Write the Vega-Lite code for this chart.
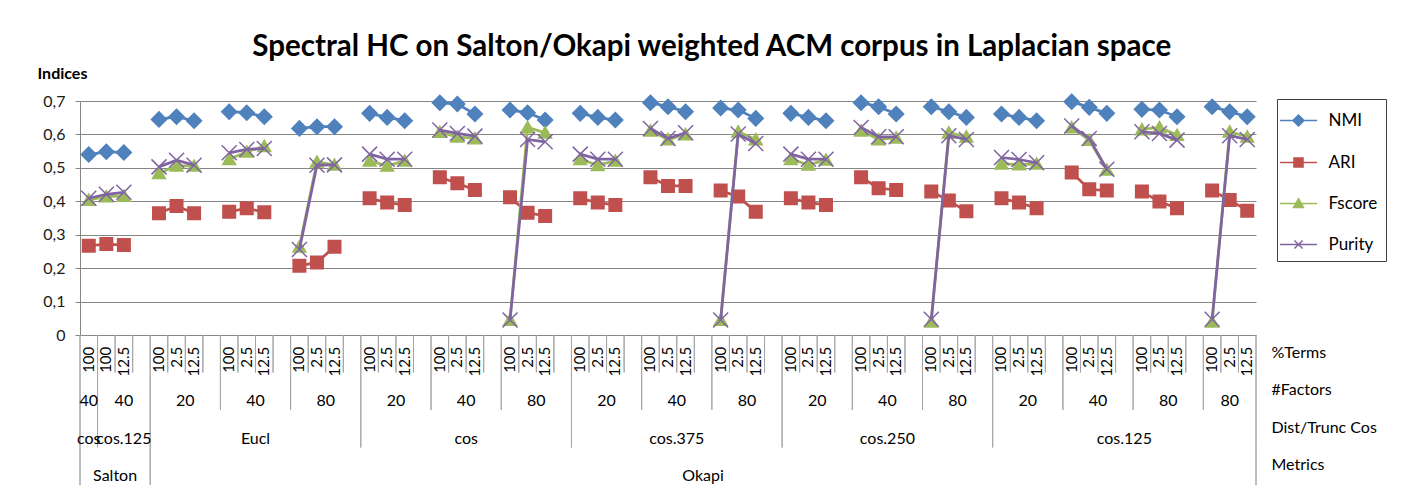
{
  "$schema": "https://vega.github.io/schema/vega-lite/v6.json",
  "background": "#ffffff",
  "padding": {"left": 37, "top": 31, "right": 5, "bottom": 5},
  "title": {"text": "Spectral HC on Salton/Okapi weighted ACM corpus in Laplacian space", "fontSize": 29.5, "font": "Lato", "fontWeight": "bold", "color": "#000000", "anchor": "middle", "offset": 3},
  "config": {
    "font": "Lato",
    "view": {"stroke": null},
    "legend": {"orient": "none", "legendX": 1197, "legendY": -2, "padding": 8.5, "strokeColor": "#404040", "fillColor": "#ffffff", "labelFontSize": 17, "labelColor": "#000000", "labelOffset": 17, "rowPadding": 20, "symbolSize": 576}
  },
  "datasets": {
    "slots": [
      {"s":0,"r":1,"t":"100","NMI":0.540,"ARI":0.267,"Fscore":0.404,"Purity":0.409},
      {"s":1,"r":1,"t":"100","NMI":0.548,"ARI":0.272,"Fscore":0.414,"Purity":0.421},
      {"s":2,"r":1,"t":"12.5","NMI":0.546,"ARI":0.269,"Fscore":0.416,"Purity":0.427},
      {"s":4,"r":2,"t":"100","NMI":0.645,"ARI":0.364,"Fscore":0.484,"Purity":0.503},
      {"s":5,"r":2,"t":"2.5","NMI":0.653,"ARI":0.386,"Fscore":0.506,"Purity":0.523},
      {"s":6,"r":2,"t":"12.5","NMI":0.641,"ARI":0.364,"Fscore":0.506,"Purity":0.508},
      {"s":8,"r":3,"t":"100","NMI":0.668,"ARI":0.369,"Fscore":0.526,"Purity":0.545},
      {"s":9,"r":3,"t":"2.5","NMI":0.665,"ARI":0.379,"Fscore":0.548,"Purity":0.555},
      {"s":10,"r":3,"t":"12.5","NMI":0.653,"ARI":0.367,"Fscore":0.565,"Purity":0.558},
      {"s":12,"r":4,"t":"100","NMI":0.618,"ARI":0.207,"Fscore":0.264,"Purity":0.256},
      {"s":13,"r":4,"t":"2.5","NMI":0.623,"ARI":0.217,"Fscore":0.518,"Purity":0.508},
      {"s":14,"r":4,"t":"12.5","NMI":0.623,"ARI":0.264,"Fscore":0.509,"Purity":0.509},
      {"s":16,"r":5,"t":"100","NMI":0.663,"ARI":0.409,"Fscore":0.521,"Purity":0.541},
      {"s":17,"r":5,"t":"2.5","NMI":0.651,"ARI":0.396,"Fscore":0.506,"Purity":0.526},
      {"s":18,"r":5,"t":"12.5","NMI":0.641,"ARI":0.389,"Fscore":0.521,"Purity":0.526},
      {"s":20,"r":6,"t":"100","NMI":0.695,"ARI":0.472,"Fscore":0.607,"Purity":0.613},
      {"s":21,"r":6,"t":"2.5","NMI":0.691,"ARI":0.454,"Fscore":0.593,"Purity":0.603},
      {"s":22,"r":6,"t":"12.5","NMI":0.661,"ARI":0.434,"Fscore":0.588,"Purity":0.595},
      {"s":24,"r":7,"t":"100","NMI":0.673,"ARI":0.412,"Fscore":0.045,"Purity":0.045},
      {"s":25,"r":7,"t":"2.5","NMI":0.665,"ARI":0.366,"Fscore":0.621,"Purity":0.585},
      {"s":26,"r":7,"t":"12.5","NMI":0.643,"ARI":0.356,"Fscore":0.605,"Purity":0.578},
      {"s":28,"r":8,"t":"100","NMI":0.663,"ARI":0.409,"Fscore":0.526,"Purity":0.541},
      {"s":29,"r":8,"t":"2.5","NMI":0.651,"ARI":0.396,"Fscore":0.508,"Purity":0.526},
      {"s":30,"r":8,"t":"12.5","NMI":0.643,"ARI":0.389,"Fscore":0.521,"Purity":0.526},
      {"s":32,"r":9,"t":"100","NMI":0.695,"ARI":0.472,"Fscore":0.611,"Purity":0.618},
      {"s":33,"r":9,"t":"2.5","NMI":0.683,"ARI":0.446,"Fscore":0.585,"Purity":0.588},
      {"s":34,"r":9,"t":"12.5","NMI":0.668,"ARI":0.446,"Fscore":0.600,"Purity":0.605},
      {"s":36,"r":10,"t":"100","NMI":0.679,"ARI":0.432,"Fscore":0.045,"Purity":0.045},
      {"s":37,"r":10,"t":"2.5","NMI":0.673,"ARI":0.414,"Fscore":0.608,"Purity":0.601},
      {"s":38,"r":10,"t":"12.5","NMI":0.648,"ARI":0.369,"Fscore":0.585,"Purity":0.573},
      {"s":40,"r":11,"t":"100","NMI":0.663,"ARI":0.409,"Fscore":0.526,"Purity":0.541},
      {"s":41,"r":11,"t":"2.5","NMI":0.651,"ARI":0.396,"Fscore":0.509,"Purity":0.526},
      {"s":42,"r":11,"t":"12.5","NMI":0.641,"ARI":0.389,"Fscore":0.524,"Purity":0.526},
      {"s":44,"r":12,"t":"100","NMI":0.695,"ARI":0.472,"Fscore":0.611,"Purity":0.621},
      {"s":45,"r":12,"t":"2.5","NMI":0.683,"ARI":0.439,"Fscore":0.585,"Purity":0.593},
      {"s":46,"r":12,"t":"12.5","NMI":0.661,"ARI":0.434,"Fscore":0.590,"Purity":0.593},
      {"s":48,"r":13,"t":"100","NMI":0.683,"ARI":0.429,"Fscore":0.040,"Purity":0.047},
      {"s":49,"r":13,"t":"2.5","NMI":0.668,"ARI":0.402,"Fscore":0.605,"Purity":0.596},
      {"s":50,"r":13,"t":"12.5","NMI":0.651,"ARI":0.370,"Fscore":0.593,"Purity":0.585},
      {"s":52,"r":14,"t":"100","NMI":0.661,"ARI":0.409,"Fscore":0.512,"Purity":0.531},
      {"s":53,"r":14,"t":"2.5","NMI":0.651,"ARI":0.396,"Fscore":0.510,"Purity":0.525},
      {"s":54,"r":14,"t":"12.5","NMI":0.641,"ARI":0.379,"Fscore":0.512,"Purity":0.515},
      {"s":56,"r":15,"t":"100","NMI":0.698,"ARI":0.486,"Fscore":0.621,"Purity":0.625},
      {"s":57,"r":15,"t":"2.5","NMI":0.681,"ARI":0.436,"Fscore":0.583,"Purity":0.588},
      {"s":58,"r":15,"t":"12.5","NMI":0.663,"ARI":0.432,"Fscore":0.494,"Purity":0.496},
      {"s":60,"r":16,"t":"100","NMI":0.675,"ARI":0.429,"Fscore":0.615,"Purity":0.608},
      {"s":61,"r":16,"t":"2.5","NMI":0.673,"ARI":0.399,"Fscore":0.621,"Purity":0.603},
      {"s":62,"r":16,"t":"12.5","NMI":0.653,"ARI":0.379,"Fscore":0.598,"Purity":0.583},
      {"s":64,"r":17,"t":"100","NMI":0.683,"ARI":0.432,"Fscore":0.040,"Purity":0.047},
      {"s":65,"r":17,"t":"2.5","NMI":0.668,"ARI":0.404,"Fscore":0.608,"Purity":0.596},
      {"s":66,"r":17,"t":"12.5","NMI":0.653,"ARI":0.372,"Fscore":0.593,"Purity":0.585}
    ],
    "seps": [
      {"b":-0.5,"d":4},{"b":0.5,"d":3},{"b":1.5,"d":1},{"b":2.5,"d":1},{"b":3.5,"d":4},
      {"b":4.5,"d":1},{"b":5.5,"d":1},{"b":6.5,"d":1},{"b":7.5,"d":2},{"b":8.5,"d":1},{"b":9.5,"d":1},{"b":10.5,"d":1},{"b":11.5,"d":2},
      {"b":12.5,"d":1},{"b":13.5,"d":1},{"b":14.5,"d":1},{"b":15.5,"d":3},{"b":16.5,"d":1},{"b":17.5,"d":1},{"b":18.5,"d":1},{"b":19.5,"d":2},
      {"b":20.5,"d":1},{"b":21.5,"d":1},{"b":22.5,"d":1},{"b":23.5,"d":2},{"b":24.5,"d":1},{"b":25.5,"d":1},{"b":26.5,"d":1},{"b":27.5,"d":3},
      {"b":28.5,"d":1},{"b":29.5,"d":1},{"b":30.5,"d":1},{"b":31.5,"d":2},{"b":32.5,"d":1},{"b":33.5,"d":1},{"b":34.5,"d":1},{"b":35.5,"d":2},
      {"b":36.5,"d":1},{"b":37.5,"d":1},{"b":38.5,"d":1},{"b":39.5,"d":3},{"b":40.5,"d":1},{"b":41.5,"d":1},{"b":42.5,"d":1},{"b":43.5,"d":2},
      {"b":44.5,"d":1},{"b":45.5,"d":1},{"b":46.5,"d":1},{"b":47.5,"d":2},{"b":48.5,"d":1},{"b":49.5,"d":1},{"b":50.5,"d":1},{"b":51.5,"d":3},
      {"b":52.5,"d":1},{"b":53.5,"d":1},{"b":54.5,"d":1},{"b":55.5,"d":2},{"b":56.5,"d":1},{"b":57.5,"d":1},{"b":58.5,"d":1},{"b":59.5,"d":2},
      {"b":60.5,"d":1},{"b":61.5,"d":1},{"b":62.5,"d":1},{"b":63.5,"d":2},{"b":64.5,"d":1},{"b":65.5,"d":1},{"b":66.5,"d":4}
    ],
    "labels": [
      {"c":0,"lv":"#Factors","t":"40"},{"c":2,"lv":"#Factors","t":"40"},{"c":5.5,"lv":"#Factors","t":"20"},{"c":9.5,"lv":"#Factors","t":"40"},
      {"c":13.5,"lv":"#Factors","t":"80"},{"c":17.5,"lv":"#Factors","t":"20"},{"c":21.5,"lv":"#Factors","t":"40"},{"c":25.5,"lv":"#Factors","t":"80"},
      {"c":29.5,"lv":"#Factors","t":"20"},{"c":33.5,"lv":"#Factors","t":"40"},{"c":37.5,"lv":"#Factors","t":"80"},{"c":41.5,"lv":"#Factors","t":"20"},
      {"c":45.5,"lv":"#Factors","t":"40"},{"c":49.5,"lv":"#Factors","t":"80"},{"c":53.5,"lv":"#Factors","t":"20"},{"c":57.5,"lv":"#Factors","t":"40"},
      {"c":61.5,"lv":"#Factors","t":"80"},{"c":65,"lv":"#Factors","t":"80"},
      {"c":0,"lv":"Dist/Trunc Cos","t":"cos"},{"c":2,"lv":"Dist/Trunc Cos","t":"cos.125"},{"c":9.5,"lv":"Dist/Trunc Cos","t":"Eucl"},
      {"c":21.5,"lv":"Dist/Trunc Cos","t":"cos"},{"c":33.5,"lv":"Dist/Trunc Cos","t":"cos.375"},{"c":45.5,"lv":"Dist/Trunc Cos","t":"cos.250"},
      {"c":59,"lv":"Dist/Trunc Cos","t":"cos.125"},
      {"c":1.5,"lv":"Metrics","t":"Salton"},{"c":35,"lv":"Metrics","t":"Okapi"}
    ]
  },
  "spacing": 0,
  "bounds": "flush",
  "resolve": {"scale": {"x": "independent", "y": "independent", "color": "independent", "shape": "independent"}},
  "vconcat": [
    {
      "width": 1176,
      "height": 234,
      "data": {"name": "slots"},
      "transform": [{"fold": ["NMI", "ARI", "Fscore", "Purity"], "as": ["metric", "value"]}],
      "encoding": {
        "x": {"field": "s", "type": "quantitative", "scale": {"domain": [-0.5, 66.5], "nice": false, "zero": false},
              "axis": {"labels": false, "ticks": false, "grid": false, "title": null, "domainColor": "#868686"}},
        "y": {"field": "value", "type": "quantitative", "scale": {"domain": [0, 0.7], "nice": false},
              "axis": {"title": "Indices", "values": [0, 0.1, 0.2, 0.3, 0.4, 0.5, 0.6, 0.7],
                       "labelExpr": "datum.value == 0 ? '0' : replace(format(datum.value, '.1f'), '.', ',')",
                       "grid": true, "gridColor": "#868686", "domainColor": "#868686", "tickColor": "#868686", "tickSize": 5,
                       "labelPadding": 10, "labelFontSize": 16, "labelColor": "#1a1a1a",
                       "titleAngle": 0, "titleAlign": "left", "titleBaseline": "middle", "titleX": -43, "titleY": -28,
                       "titleFontSize": 16, "titleFontWeight": "bold", "titleColor": "#000000"}}
      },
      "layer": [
        {
          "transform": [{"filter": "datum.metric != 'Purity'"}],
          "mark": {"type": "line", "strokeWidth": 2.75},
          "encoding": {
            "color": {"field": "metric", "type": "nominal", "scale": {"domain": ["NMI", "ARI", "Fscore", "Purity"], "range": ["#4F81BD", "#C0504D", "#9BBB59", "#8064A2"]}},
            "detail": {"field": "r"}
          }
        },
        {
          "mark": {"type": "point", "filled": true, "strokeWidth": 0, "size": 1379, "opacity": 1},
          "encoding": {
            "color": {"field": "metric", "type": "nominal", "scale": {"domain": ["NMI", "ARI", "Fscore", "Purity"], "range": ["#4F81BD", "#C0504D", "#9BBB59", "#8064A2"]},
                      "legend": {"title": null, "encode": {"symbols": {"update": {"strokeWidth": {"value": 2.5}, "stroke": {"signal": "datum.value === 'NMI' ? '#4F81BD' : datum.value === 'ARI' ? '#C0504D' : datum.value === 'Fscore' ? '#9BBB59' : '#8064A2'"}}}}}},
            "shape": {"field": "metric", "type": "nominal",
                      "scale": {"domain": ["NMI", "ARI", "Fscore", "Purity"],
                                "range": ["M-1.55,0H1.55M0,-0.46L0.46,0L0,0.46L-0.46,0Z", "M-1.55,0H1.55M-0.377,-0.377H0.377V0.377H-0.377Z", "M-1.55,0H1.55M0,-0.4L0.416,0.323H-0.416Z", "M-1.55,0H1.55M-0.34,-0.34L0.34,0.34M-0.34,0.34L0.34,-0.34"]},
                      "legend": {"title": null, "encode": {"symbols": {"update": {"strokeWidth": {"value": 2.5}, "stroke": {"signal": "datum.value === 'NMI' ? '#4F81BD' : datum.value === 'ARI' ? '#C0504D' : datum.value === 'Fscore' ? '#9BBB59' : '#8064A2'"}}}}}}
          }
        },
        {
          "transform": [{"filter": "datum.metric == 'Purity'"}],
          "mark": {"type": "line", "strokeWidth": 2.75},
          "encoding": {
            "color": {"field": "metric", "type": "nominal", "scale": {"domain": ["NMI", "ARI", "Fscore", "Purity"], "range": ["#4F81BD", "#C0504D", "#9BBB59", "#8064A2"]}},
            "detail": {"field": "r"}
          }
        },
        {
          "transform": [{"filter": "datum.metric == 'Purity'"}],
          "mark": {"type": "point", "shape": "M-1,-1L1,1M-1,1L1,-1", "filled": false, "size": 225, "color": "#8064A2", "strokeWidth": 1.5, "opacity": 1}
        }
      ]
    },
    {
      "width": 1176,
      "height": 150,
      "layer": [
        {
          "data": {"name": "seps"},
          "transform": [{"filter": "datum.d >= 1"}],
          "mark": {"type": "rect", "filled": false, "color": "#a6a6a6", "strokeWidth": 1},
          "encoding": {
            "x": {"field": "b", "type": "quantitative", "scale": {"domain": [-0.5, 66.5], "nice": false, "zero": false}, "axis": null},
            "x2": {"field": "b"},
            "y": {"datum": "%Terms", "type": "ordinal"}
          }
        },
        {
          "data": {"name": "seps"},
          "transform": [{"filter": "datum.d >= 2"}],
          "mark": {"type": "rect", "filled": false, "color": "#a6a6a6", "strokeWidth": 1},
          "encoding": {
            "x": {"field": "b", "type": "quantitative", "scale": {"domain": [-0.5, 66.5], "nice": false, "zero": false}, "axis": null},
            "x2": {"field": "b"},
            "y": {"datum": "#Factors", "type": "ordinal"}
          }
        },
        {
          "data": {"name": "seps"},
          "transform": [{"filter": "datum.d >= 3"}],
          "mark": {"type": "rect", "filled": false, "color": "#a6a6a6", "strokeWidth": 1},
          "encoding": {
            "x": {"field": "b", "type": "quantitative", "scale": {"domain": [-0.5, 66.5], "nice": false, "zero": false}, "axis": null},
            "x2": {"field": "b"},
            "y": {"datum": "Dist/Trunc Cos", "type": "ordinal"}
          }
        },
        {
          "data": {"name": "seps"},
          "transform": [{"filter": "datum.d >= 4"}],
          "mark": {"type": "rect", "filled": false, "color": "#a6a6a6", "strokeWidth": 1},
          "encoding": {
            "x": {"field": "b", "type": "quantitative", "scale": {"domain": [-0.5, 66.5], "nice": false, "zero": false}, "axis": null},
            "x2": {"field": "b"},
            "y": {"datum": "Metrics", "type": "ordinal"}
          }
        },
        {
          "data": {"name": "slots"},
          "mark": {"type": "text", "angle": 270, "align": "right", "baseline": "middle", "fontSize": 15, "yOffset": -7, "color": "#000000"},
          "encoding": {
            "x": {"field": "s", "type": "quantitative", "scale": {"domain": [-0.5, 66.5], "nice": false, "zero": false}, "axis": null},
            "y": {"datum": "%Terms", "type": "ordinal"},
            "text": {"field": "t"}
          }
        },
        {
          "data": {"name": "labels"},
          "mark": {"type": "text", "baseline": "middle", "fontSize": 16, "yOffset": 10, "color": "#000000"},
          "encoding": {
            "x": {"field": "c", "type": "quantitative", "scale": {"domain": [-0.5, 66.5], "nice": false, "zero": false}, "axis": null},
            "y": {"field": "lv", "type": "ordinal",
                  "scale": {"domain": ["%Terms", "#Factors", "Dist/Trunc Cos", "Metrics"], "paddingInner": 0, "paddingOuter": 0},
                  "axis": {"orient": "right", "title": null, "domain": false, "ticks": false, "labelFontSize": 16, "labelPadding": 15, "labelOffset": -1, "labelColor": "#000000", "labelAlign": "left"}},
            "text": {"field": "t"}
          }
        }
      ]
    }
  ]
}
